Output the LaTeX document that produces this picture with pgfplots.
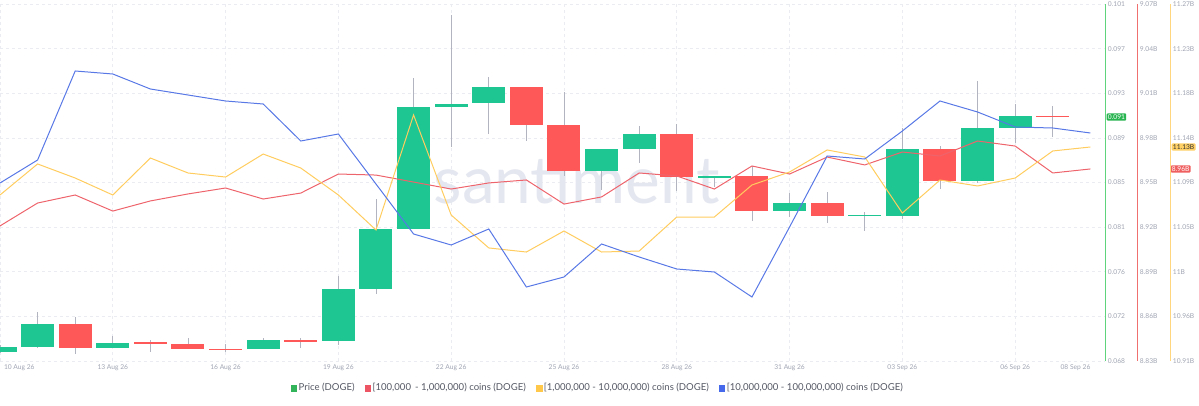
\documentclass[border=0pt]{standalone}
\usepackage{pgfplots}
\pgfplotsset{compat=1.18}
\usepackage{pgfplotstable}
\usepackage{fontspec}
\setmainfont{Lato}
\definecolor{cup}{RGB}{30,199,145}
\definecolor{cdown}{RGB}{255,88,88}
\definecolor{cwick}{RGB}{178,180,192}
\definecolor{lred}{RGB}{238,100,108}
\definecolor{lyel}{RGB}{255,205,95}
\definecolor{lblue}{RGB}{88,120,230}
\definecolor{agreen}{RGB}{95,212,125}
\definecolor{ared}{RGB}{240,112,112}
\definecolor{ayel}{RGB}{255,214,125}
\definecolor{tickc}{RGB}{160,164,178}
\definecolor{gridc}{RGB}{234,236,241}
\definecolor{bgreen}{RGB}{40,180,80}
\definecolor{bred}{RGB}{240,95,95}
\definecolor{byel}{RGB}{255,208,100}
\definecolor{legtext}{RGB}{85,88,100}
\definecolor{wm}{RGB}{229,231,240}
\definecolor{sgreen}{RGB}{50,180,90}
\definecolor{sred}{RGB}{238,85,100}
\definecolor{syel}{RGB}{255,200,75}
\definecolor{sblue}{RGB}{70,105,235}

% price candles: day open high low close
\pgfplotstableread{
d o h l c
0 0.06883 0.06948 0.06874 0.06929
1 0.06929 0.07253 0.06920 0.07142
3 0.06920 0.07031 0.06920 0.06966
7 0.06911 0.07013 0.06911 0.06994
9 0.06985 0.07586 0.06948 0.07466
10 0.07466 0.08298 0.07419 0.08020
11 0.08020 0.09416 0.08020 0.09148
12 0.09148 0.09998 0.08778 0.09176
13 0.09185 0.09425 0.08898 0.09333
16 0.08556 0.08760 0.08381 0.08760
17 0.08760 0.08972 0.08630 0.08898
19 0.08501 0.08510 0.08408 0.08510
21 0.08187 0.08353 0.08131 0.08261
23 0.08140 0.08177 0.08002 0.08150
24 0.08140 0.08954 0.08113 0.08760
26 0.08464 0.09388 0.08445 0.08954
27 0.08954 0.09176 0.08815 0.09065
}\up
\pgfplotstableread{
d o h l c
2 0.07142 0.07207 0.06865 0.06920
4 0.06976 0.06994 0.06883 0.06957
5 0.06957 0.07013 0.06911 0.06911
6 0.06911 0.06957 0.06883 0.06902
8 0.06994 0.07013 0.06920 0.06976
14 0.09333 0.09333 0.08834 0.08982
15 0.08982 0.09287 0.08510 0.08556
18 0.08898 0.08991 0.08371 0.08501
20 0.08510 0.08603 0.08094 0.08187
22 0.08261 0.08362 0.08076 0.08140
25 0.08760 0.08787 0.08390 0.08464
28 0.09065 0.09157 0.08871 0.09056
}\down
% [100,000 - 1,000,000) coins, billions
\pgfplotstableread{
d v
0 8.9208
1 8.9362
2 8.9416
3 8.9308
4 8.9376
5 8.9423
6 8.9463
7 8.9389
8 8.9429
9 8.9557
10 8.9550
11 8.9503
12 8.9456
13 8.9497
14 8.9517
15 8.9355
16 8.9403
17 8.9564
18 8.9544
19 8.9456
20 8.9611
21 8.9557
22 8.9671
23 8.9618
24 8.9705
25 8.9678
26 8.9779
27 8.9745
28 8.9564
29 8.9591
}\redtab
% [1,000,000 - 10,000,000) coins, billions
\pgfplotstableread{
d v
0 11.0774
1 11.1087
2 11.0945
3 11.0774
4 11.1147
5 11.0996
6 11.0955
7 11.1187
8 11.1046
9 11.0774
10 11.0421
11 11.1581
12 11.0572
13 11.0240
14 11.0199
15 11.0411
16 11.0199
17 11.0209
18 11.0552
19 11.0552
20 11.0875
21 11.1006
22 11.1228
23 11.1157
24 11.0592
25 11.0925
26 11.0865
27 11.0945
28 11.1218
29 11.1258
}\yeltab
% [10,000,000 - 100,000,000) coins, billions (hidden axis)
\pgfplotstableread{
d v
0 24.178
1 24.201
2 24.290
3 24.287
4 24.272
5 24.266
6 24.260
7 24.257
8 24.220
9 24.227
10 24.177
11 24.127
12 24.116
13 24.132
14 24.074
15 24.084
16 24.117
17 24.104
18 24.092
19 24.089
20 24.064
21 24.134
22 24.205
23 24.202
24 24.230
25 24.260
26 24.249
27 24.234
28 24.233
29 24.228
}\bluetab

\pgfplotsset{
  base/.style={width=1105bp, height=357bp, scale only axis,
    at={(0bp,45bp)}, anchor=south west, xmin=0, xmax=29.39,
    xtick style={draw=none}, ytick style={draw=none},
    tick label style={font=\fontsize{6.7}{8}\selectfont, text=tickc},
    yticklabel style={anchor=west, inner sep=1.2bp, xshift=1.5bp},
    /pgf/number format/assume math mode=true},
  sqleg/.style={legend image code/.code={\fill[##1] (0bp,-2.8bp) rectangle (5.6bp,2.8bp);}},
}

\begin{document}
\begin{tikzpicture}
\useasboundingbox (0,0) rectangle (1199bp,406bp);
% price axis
\begin{axis}[base, ymin=0.068, ymax=0.101,
  axis x line*=bottom, x axis line style={draw=none},
  axis y line*=right, y axis line style={agreen, line width=0.9bp},
  xmajorgrids, ymajorgrids,
  major grid style={gridc, dash pattern=on 3bp off 3bp, line width=0.6bp},
  xtick={0,3,6,9,12,15,18,21,24,27},
  xticklabels={\makebox[0pt][l]{\hspace{4bp}10 Aug 26},13 Aug 26,16 Aug 26,19 Aug 26,22 Aug 26,25 Aug 26,28 Aug 26,31 Aug 26,03 Sep 26,06 Sep 26},
  extra x ticks={29}, extra x tick labels={\makebox[0pt][r]{08 Sep 26}},
  extra x tick style={grid=none},
  ytick={0.068,0.072125,0.07625,0.080375,0.0845,0.088625,0.09275,0.096875,0.101},
  yticklabels={0.068,0.072,0.076,0.081,0.085,0.089,0.093,0.097,0.101},
  extra y ticks={0.09056}, extra y tick labels={0.091},
  extra y tick style={grid=none, tick label style={fill=bgreen, text=white, rounded corners=1bp}},
]
\node[font=\fontsize{66}{66}\selectfont, text=wm] at (rel axis cs:0.522,0.507) {santiment};
\addplot[draw=none, mark=none, error bars/.cd, y dir=both, y explicit, error mark=none,
  error bar style={draw=cwick, line width=0.8bp}]
  table[x=d, y expr={(\thisrow{h}+\thisrow{l})/2}, y error expr={(\thisrow{h}-\thisrow{l})/2}]{\up};
\addplot[draw=none, mark=none, error bars/.cd, y dir=both, y explicit, error mark=none,
  error bar style={draw=cwick, line width=0.8bp}]
  table[x=d, y expr={(\thisrow{h}+\thisrow{l})/2}, y error expr={(\thisrow{h}-\thisrow{l})/2}]{\down};
\addplot[draw=none, mark=none, error bars/.cd, y dir=both, y explicit, error mark=none,
  error bar style={draw=cup, line width=33bp}]
  table[x=d, y expr={(\thisrow{o}+\thisrow{c})/2}, y error expr={abs(\thisrow{c}-\thisrow{o})/2+0.00004}]{\up};
\addplot[draw=none, mark=none, error bars/.cd, y dir=both, y explicit, error mark=none,
  error bar style={draw=cdown, line width=33bp}]
  table[x=d, y expr={(\thisrow{o}+\thisrow{c})/2}, y error expr={abs(\thisrow{c}-\thisrow{o})/2+0.00004}]{\down};
\end{axis}
% red axis
\begin{axis}[base, ymin=8.83, ymax=9.07, hide x axis,
  axis y line*=right, axis y line shift=32bp, y axis line style={ared, line width=0.9bp},
  ytick={8.83,8.86,8.89,8.92,8.95,8.98,9.01,9.04,9.07},
  yticklabels={8.83B,8.86B,8.89B,8.92B,8.95B,8.98B,9.01B,9.04B,9.07B},
  extra y ticks={8.9591}, extra y tick labels={8.96B},
  extra y tick style={tick label style={fill=bred, text=white, rounded corners=1bp, xshift=32bp}},
]
\addplot[lred, line width=1bp, mark=none] table[x=d, y=v]{\redtab};
\end{axis}
% yellow axis
\begin{axis}[base, ymin=10.91, ymax=11.27, hide x axis,
  axis y line*=right, axis y line shift=65bp, y axis line style={ayel, line width=0.9bp},
  ytick={10.91,10.955,11,11.045,11.09,11.135,11.18,11.225,11.27},
  yticklabels={10.91B,10.96B,11B,11.05B,11.09B,11.14B,11.18B,11.23B,11.27B},
  extra y ticks={11.1258}, extra y tick labels={11.13B},
  extra y tick style={tick label style={fill=byel, text=black!80, rounded corners=1bp, inner xsep=1bp}},
]
\addplot[lyel, line width=1bp, mark=none] table[x=d, y=v]{\yeltab};
\end{axis}
% blue axis (hidden)
\begin{axis}[base, ymin=24.0, ymax=24.357, hide axis,
  legend style={at={(0.541,-0.0756)}, anchor=center, draw=none, fill=none,
    font=\fontsize{9.6}{11}\selectfont, text=legtext, legend columns=-1,
    /tikz/every even column/.append style={column sep=8bp}, inner sep=0pt},
  legend cell align=left,
]
\addplot[lblue, line width=1bp, mark=none, forget plot] table[x=d, y=v]{\bluetab};
\addlegendimage{sgreen, sqleg}
\addlegendentry{Price (DOGE)}
\addlegendimage{sred, sqleg}
\addlegendentry{[100,000 \,- 1,000,000) coins (DOGE)}
\addlegendimage{syel, sqleg}
\addlegendentry{[1,000,000 - 10,000,000) coins (DOGE)}
\addlegendimage{sblue, sqleg}
\addlegendentry{[10,000,000 - 100,000,000) coins (DOGE)}
\end{axis}
\end{tikzpicture}
\end{document}
